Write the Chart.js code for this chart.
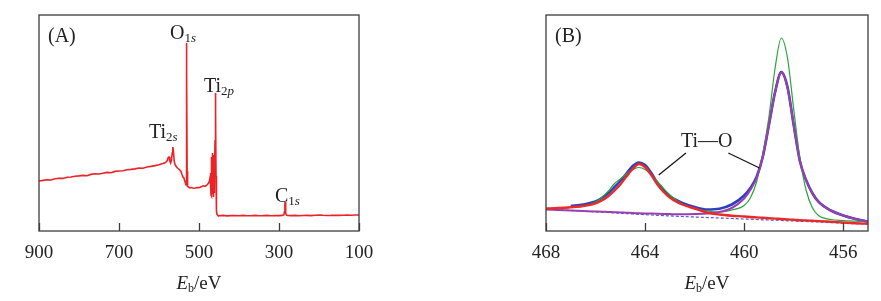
<!DOCTYPE html>
<html>
<head>
<meta charset="utf-8">
<script src="https://cdn.jsdelivr.net/npm/chart.js@4"></script>
<style>
  body { margin: 0; background: #fff; }
  canvas { position: absolute; top: 0; }
  #survey { left: 0; }
  #ti2p { left: 460px; }
</style>
</head>
<body>
<canvas id="survey" width="400" height="301"></canvas>
<canvas id="ti2p" width="421" height="301"></canvas>
<script>
// (A) survey spectrum, binding energy (eV) vs intensity (a.u.)
const surveyEnergy = [
  900, 890, 880, 870, 860, 850, 840, 830, 820, 810, 800, 790, 780, 770, 760, 750, 740, 730, 720, 710,
  700, 690, 680, 670, 660, 650, 640, 630, 620, 610, 600, 595, 590, 585, 580, 577, 575, 573, 571, 569,
  567, 565.5, 564, 562, 560, 557, 554, 551, 548, 545, 542, 540, 538, 536, 534, 532.5, 531.8, 531, 530.3, 529.7,
  529, 528, 526, 523, 520, 515, 510, 505, 500, 496, 492, 488, 485, 482, 479, 476, 474, 472.5, 471.5, 471,
  470.5, 470, 469.5, 469, 468.5, 468, 467.5, 467, 466.5, 466, 465.5, 465, 464.5, 464, 463.5, 463, 462.5, 462, 461, 460,
  459.2, 458.6, 458, 457.4, 456.8, 456, 455, 453, 450, 440, 430, 420, 410, 400, 390, 380, 370, 360, 350, 340,
  330, 320, 310, 300, 292, 288, 286.5, 285.3, 284.6, 283.8, 282.8, 281, 278, 270, 260, 250, 240, 230, 220, 210,
  200, 190, 180, 170, 160, 150, 140, 130, 120, 110, 100
];
const surveyIntensity = [
  50, 50.6, 51.2, 51, 52.3, 52.8, 52.6, 53.7, 54, 54.8, 55.1, 55.6, 55.3, 56.6, 57.2, 57, 57.8, 58.6, 58.2, 59.6,
  60, 60.3, 61.2, 61.6, 62.1, 63, 62.7, 64, 64.6, 65.4, 66.2, 67, 67.4, 68.2, 70, 73.5, 74, 70, 68, 70.5,
  78, 84, 80, 70, 66.5, 64.5, 63, 62, 61, 59.5, 56, 54, 53, 50.5, 48, 46, 110, 188, 160, 60,
  46, 44.5, 44, 43.2, 43.5, 43, 42.8, 43.4, 43.2, 44, 44.8, 45.2, 44.6, 45.5, 46.5, 48, 50, 53, 50, 58,
  47, 36, 56, 74, 44, 35, 62, 78, 46, 37, 66, 76, 68, 42, 34, 56, 44, 38, 52, 90,
  128, 138, 118, 55, 30, 20, 16.5, 15.6, 15.2, 15.6, 15.1, 15.4, 15.5, 15.2, 15.6, 15.3, 15.2, 15.6, 15.3, 15.4,
  15.6, 15.2, 15.5, 15.4, 15.6, 16.2, 19, 27, 29, 25, 18, 15.8, 15.5, 15.4, 15.6, 15.3, 15.5, 15.6, 15.4, 15.8,
  16, 15.7, 15.5, 15.6, 15.8, 15.6, 15.7, 15.9, 15.8, 16, 16
];
const surveyTicks = [900, 700, 500, 300, 100];

// (B) Ti 2p high-resolution spectrum and fit
const fitEnergy = [
  468, 467.5, 467, 466.5, 466, 465.75, 465.5, 465.25, 465, 464.75, 464.5, 464.25, 464, 463.75, 463.5, 463.25, 463, 462.75, 462.5, 462,
  461.5, 461, 460.5, 460, 459.75, 459.5, 459.25, 459, 458.75, 458.5, 458.25, 458, 457.75, 457.5, 457.25, 457, 456.5, 456, 455.5, 455
];
const greenCurve = [
  22.5, 23, 23.5, 24.5, 29, 33.5, 39.5, 47, 52, 57, 61.5, 63.5, 61.5, 56, 49.5, 42.5, 36, 31, 27, 22.7,
  20, 19, 21, 25.5, 33, 49, 77, 114, 163, 193, 173, 122, 73, 41, 23.5, 15.5, 11.5, 10.5, 9.8, 9
];
const blueCurve = [
  null, null, 25, 26.5, 29.5, 33, 37.5, 43.5, 50, 57.5, 65, 68.5, 66, 58, 48, 40.5, 35, 31, 28, 24,
  21.5, 22.3, 26.5, 35.5, 43, 54, 74, 106, 139, 159, 144, 106, 70, 51, 38, 29.3, 20.5, 15.5, 12, 9.3
];
const redCurve = [
  22.5, 23, 23.8, 25, 27.7, 30.5, 34.5, 40, 46.5, 54.5, 62, 67, 64, 56, 46.5, 39, 33.5, 29.5, 26.5, 22.5,
  18.5, 16.5, 15.3, 14.5, 14, 13.6, 13.2, 12.8, 12.4, 12, 11.6, 11.2, 10.8, 10.5, 10.2, 9.9, 9.2, 8.5, 7.8, 7.2
];
const purpleCurve = [
  21.5, 21, 20.5, 20, 19.5, 19.3, 19, 18.8, 18.5, 18.3, 18, 17.8, 17.6, 17.4, 17.2, 17, 16.9, 16.8, 16.8, 17,
  17.5, 19, 23, 32.5, 41, 53, 74, 106, 139, 158.5, 143, 106, 70, 51, 38, 29, 20.5, 15.5, 12, 9.3
];
const backgroundCurve = [
  22, 21.3, 20.6, 19.9, 19.2, 18.9, 18.5, 18.2, 17.8, 17.4, 17, 16.7, 16.3, 16, 15.7, 15.4, 15.1, 14.8, 14.5, 14,
  13.5, 13, 12.5, 12, 11.8, 11.5, 11.2, 11, 10.8, 10.5, 10.2, 10, 9.7, 9.5, 9.2, 9, 8.4, 7.8, 7.3, 6.8
];
const ti2pTicks = [468, 464, 460, 456];

const SERIF = '"Liberation Serif", "Times New Roman", serif';
const INK = '#222';

function pts(xs, ys) {
  return xs.map((x, i) => ({x: x, y: ys[i]}));
}

// text made of pieces (subscripts, italics)
function richWidth(ctx, parts) {
  let w = 0;
  parts.forEach(p => {
    ctx.font = (p.italic ? 'italic ' : '') + (p.size || 20) + 'px ' + SERIF;
    w += ctx.measureText(p.t).width;
  });
  return w;
}
function drawRich(ctx, x, y, parts, center) {
  if (center) x -= richWidth(ctx, parts) / 2;
  ctx.textBaseline = 'alphabetic';
  ctx.textAlign = 'left';
  ctx.fillStyle = INK;
  parts.forEach(p => {
    ctx.font = (p.italic ? 'italic ' : '') + (p.size || 20) + 'px ' + SERIF;
    ctx.fillText(p.t, x, y + (p.dy || 0));
    x += ctx.measureText(p.t).width;
  });
}

const framePlugin = {
  id: 'frame',
  afterDraw(chart, args, opts) {
    const ctx = chart.ctx;
    const a = chart.chartArea;
    const xs = chart.scales.x;
    const ys = chart.scales.y;
    ctx.save();
    ctx.strokeStyle = '#3c3c3c';
    ctx.lineWidth = 1.3;
    ctx.strokeRect(a.left, a.top, a.right - a.left, a.bottom - a.top);
    xs.ticks.forEach(t => {
      const px = Math.round(xs.getPixelForValue(t.value)) + 0.5;
      ctx.beginPath();
      ctx.moveTo(px, a.bottom);
      ctx.lineTo(px, a.bottom - 8);
      ctx.stroke();
    });
    ctx.lineWidth = 1.2;
    ctx.strokeStyle = '#111';
    (opts.leaders || []).forEach(l => {
      ctx.beginPath();
      ctx.moveTo(xs.getPixelForValue(l[0]), ys.getPixelForValue(l[1]));
      ctx.lineTo(xs.getPixelForValue(l[2]), ys.getPixelForValue(l[3]));
      ctx.stroke();
    });
    (opts.labels || []).forEach(l => {
      drawRich(ctx, xs.getPixelForValue(l.x), ys.getPixelForValue(l.y), l.parts);
    });
    drawRich(ctx, a.left + 9, a.top + 27, [{t: opts.letter}]);
    drawRich(ctx, (a.left + a.right) / 2, 289, [
      {t: 'E', italic: true, size: 19},
      {t: 'b', size: 12, dy: 3},
      {t: '/eV', size: 19}
    ], true);
    ctx.restore();
  }
};

function xAxis(min, max, step, reverse) {
  return {
    type: 'linear',
    min: min,
    max: max,
    reverse: reverse,
    grid: {display: false},
    border: {display: false},
    ticks: {stepSize: step, includeBounds: false, padding: 3, color: INK, font: {family: SERIF, size: 19}, maxRotation: 0},
    afterFit(scale) { scale.height = 70; }
  };
}
const yAxis = {display: false, min: 0, max: 216};

new Chart(document.getElementById('survey'), {
  type: 'line',
  data: {
    datasets: [{
      label: 'Survey',
      data: pts(surveyEnergy, surveyIntensity),
      borderColor: '#ec2326',
      borderWidth: 1.6,
      pointRadius: 0,
      tension: 0
    }]
  },
  options: {
    responsive: false,
    animation: false,
    layout: {padding: {left: 39, right: 41, top: 15, bottom: 0}},
    scales: {x: xAxis(100, 900, 200, true), y: yAxis},
    plugins: {
      legend: {display: false},
      tooltip: {enabled: false},
      frame: {
        letter: '(A)',
        labels: [
          {x: 572.5, y: 192, parts: [{t: 'O'}, {t: '1', size: 13, dy: 3}, {t: 's', size: 13, dy: 3, italic: true}]},
          {x: 487.5, y: 139, parts: [{t: 'Ti'}, {t: '2', size: 13, dy: 3}, {t: 'p', size: 13, dy: 3, italic: true}]},
          {x: 625, y: 93, parts: [{t: 'Ti'}, {t: '2', size: 13, dy: 3}, {t: 's', size: 13, dy: 3, italic: true}]},
          {x: 310, y: 29, parts: [{t: 'C'}, {t: '1', size: 13, dy: 3}, {t: 's', size: 13, dy: 3, italic: true}]}
        ]
      }
    }
  },
  plugins: [framePlugin]
});

function curve(label, ys, color, width, dash) {
  return {
    label: label,
    data: pts(fitEnergy, ys),
    borderColor: color,
    borderWidth: width,
    borderDash: dash || [],
    pointRadius: 0,
    cubicInterpolationMode: 'monotone',
    spanGaps: false
  };
}

new Chart(document.getElementById('ti2p'), {
  type: 'line',
  data: {
    datasets: [
      curve('Peak 1', redCurve, '#ea2a2a', 2.4),
      curve('Peak 2', purpleCurve, '#9a3fb0', 2),
      curve('Green', greenCurve, '#2ea23a', 1.2),
      curve('Envelope', blueCurve, '#2e3fbf', 2.6),
      curve('Background', backgroundCurve, '#4a5ad0', 1.2, [3, 2])
    ]
  },
  options: {
    responsive: false,
    animation: false,
    layout: {padding: {left: 86, right: 13, top: 15, bottom: 0}},
    scales: {x: xAxis(455, 468, 4, true), y: yAxis},
    plugins: {
      legend: {display: false},
      tooltip: {enabled: false},
      frame: {
        letter: '(B)',
        labels: [
          {x: 462.55, y: 84, parts: [{t: 'Ti\u2014O'}]}
        ],
        leaders: [
          [462.35, 78, 463.45, 56],
          [460.64, 78, 459.38, 63]
        ]
      }
    }
  },
  plugins: [framePlugin]
});
</script>
</body>
</html>
